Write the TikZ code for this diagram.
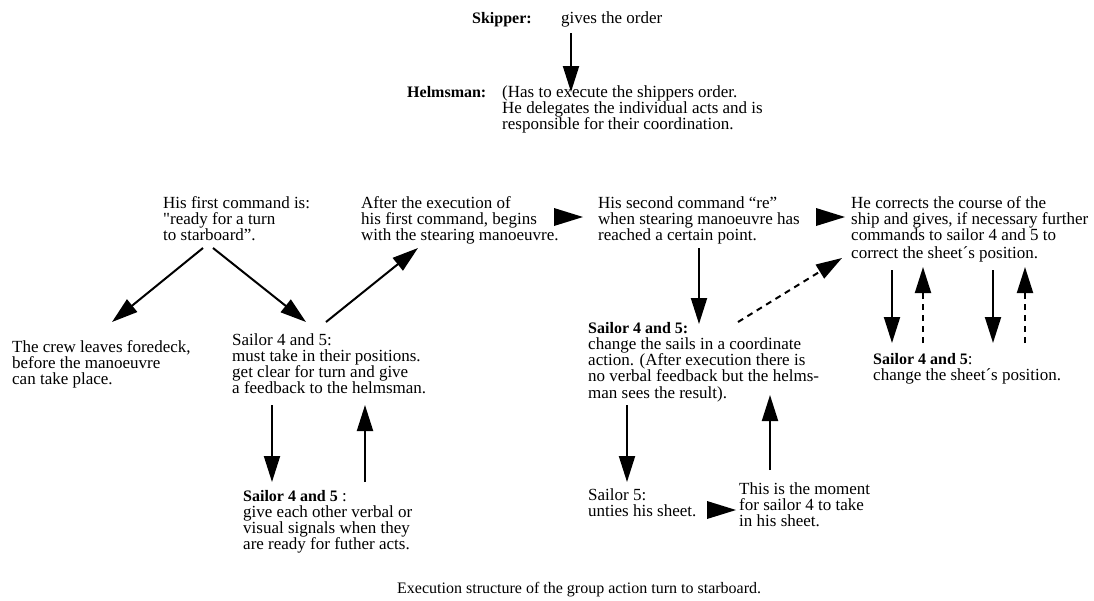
\documentclass[tikz,border=0pt]{standalone}
\usepackage{fontspec}
\setmainfont{Liberation Serif}[Ligatures=TeXOff]
\usetikzlibrary{arrows.meta}
% bold role label, set a little smaller than the running text
\newcommand\rolelabel[1]{{\fontsize{16}{16}\selectfont\bfseries #1}}
\begin{document}
\begin{tikzpicture}[x=1pt,y=-1pt,
  txt/.style={anchor=north west,inner sep=0pt,align=left,
    font=\fontsize{17}{16}\selectfont},
  boldtxt/.style={txt,font=\fontsize{16}{16}\selectfont\bfseries},
  flow/.style={line width=2pt,-{Triangle[length=26pt,width=16pt]}},
  back/.style={flow,dash pattern=on 6pt off 5pt},
  pointer/.style={fill=black}]
\useasboundingbox (0,0) rectangle (1094,600);

% --- command chain at the top
\node[boldtxt] (skipper) at (472,12) {Skipper:};
\node[txt] (order) at (561,12) {gives the order};
\node[boldtxt] (helm) at (407,86) {Helmsman:};
\node[txt] (helmtask) at (502,86) {(Has to execute the shippers order.\\
He delegates the individual acts and is\\
responsible for their coordination.};

% --- first row: the helmsman's commands
\node[txt] (cmd1) at (163,196) {His first command is:\\
"ready for a turn\\
to starboard”.};
\node[txt] (steer) at (361,196) {After the execution of\\
his first command, begins\\
with the stearing manoeuvre.};
\node[txt] (cmd2) at (598,196) {His second command “re”\\
when stearing manoeuvre has\\
reached a certain point.};
\node[txt] (correct) at (851,196) {He corrects the course of the\\
ship and gives, if necessary further\\
commands to sailor 4 and 5 to\\[2pt]
correct the sheet´s position.};

% --- second row: reactions of the crew
\node[txt] (crew) at (12,340) {The crew leaves foredeck,\\
before the manoeuvre\\
can take place.};
\node[txt] (pos) at (232,333) {Sailor 4 and 5:\\
must take in their positions.\\
get clear for turn and give\\
a feedback to the helmsman.};
\node[txt] (sails) at (588,322) {\rolelabel{Sailor 4 and 5:}\\
change the sails in a coordinate\\
action. (After execution there is\\
no verbal feedback but the helms-\\[1pt]
man sees the result).};
\node[txt] (sheet) at (873,353) {\rolelabel{Sailor 4 and 5}:\\
change the sheet´s position.};

% --- third row
\node[txt] (signals) at (243,490) {\rolelabel{Sailor 4 and 5} :\\
give each other verbal or\\
visual signals when they\\
are ready for futher acts.};
\node[txt] (unties) at (588,488) {Sailor 5:\\
unties his sheet.};
\node[txt] (moment) at (739,482) {This is the moment\\
for sailor 4 to take\\
in his sheet.};

% --- caption
\node[txt,font=\fontsize{16}{16}\selectfont] (caption) at (397,582)
  {Execution structure of the group action turn to starboard.};

% --- connector end points
\coordinate (s0) at (571,33);   \coordinate (e0) at (571,92);
\coordinate (s1) at (203,248);  \coordinate (e1) at (112,322);
\coordinate (s2) at (213,248);  \coordinate (e2) at (306,322);
\coordinate (s3) at (326,322);  \coordinate (e3) at (418,248);
\coordinate (s4) at (699,248);  \coordinate (e4) at (699,324);
\coordinate (s5) at (738,322);  \coordinate (e5) at (842,258);
\coordinate (s6) at (892,270);  \coordinate (e6) at (892,343);
\coordinate (s7) at (923,343);  \coordinate (e7) at (923,267);
\coordinate (s8) at (993,270);  \coordinate (e8) at (993,343);
\coordinate (s9) at (1025,343); \coordinate (e9) at (1025,267);
\coordinate (s10) at (272,405); \coordinate (e10) at (272,482);
\coordinate (s11) at (365,482); \coordinate (e11) at (365,405);
\coordinate (s12) at (627,405); \coordinate (e12) at (627,482);
\coordinate (s13) at (770,470); \coordinate (e13) at (770,395);

\draw[flow] (s0) -- (e0);
\draw[flow] (s1) -- (e1);
\draw[flow] (s2) -- (e2);
\draw[flow] (s3) -- (e3);
\draw[flow] (s4) -- (e4);
\draw[back] (s5) -- (e5);
\draw[flow] (s6) -- (e6);
\draw[back] (s7) -- (e7);
\draw[flow] (s8) -- (e8);
\draw[back] (s9) -- (e9);
\draw[flow] (s10) -- (e10);
\draw[flow] (s11) -- (e11);
\draw[flow] (s12) -- (e12);
\draw[flow] (s13) -- (e13);

% --- sequence pointers between steps
\coordinate (p1) at (583,217);
\coordinate (p2) at (845,217);
\coordinate (p3) at (736,510);
\fill[pointer] (p1) -- ++(-29,-9) -- ++(0,18) -- cycle;
\fill[pointer] (p2) -- ++(-29,-9) -- ++(0,18) -- cycle;
\fill[pointer] (p3) -- ++(-29,-9) -- ++(0,18) -- cycle;
\end{tikzpicture}
\end{document}
